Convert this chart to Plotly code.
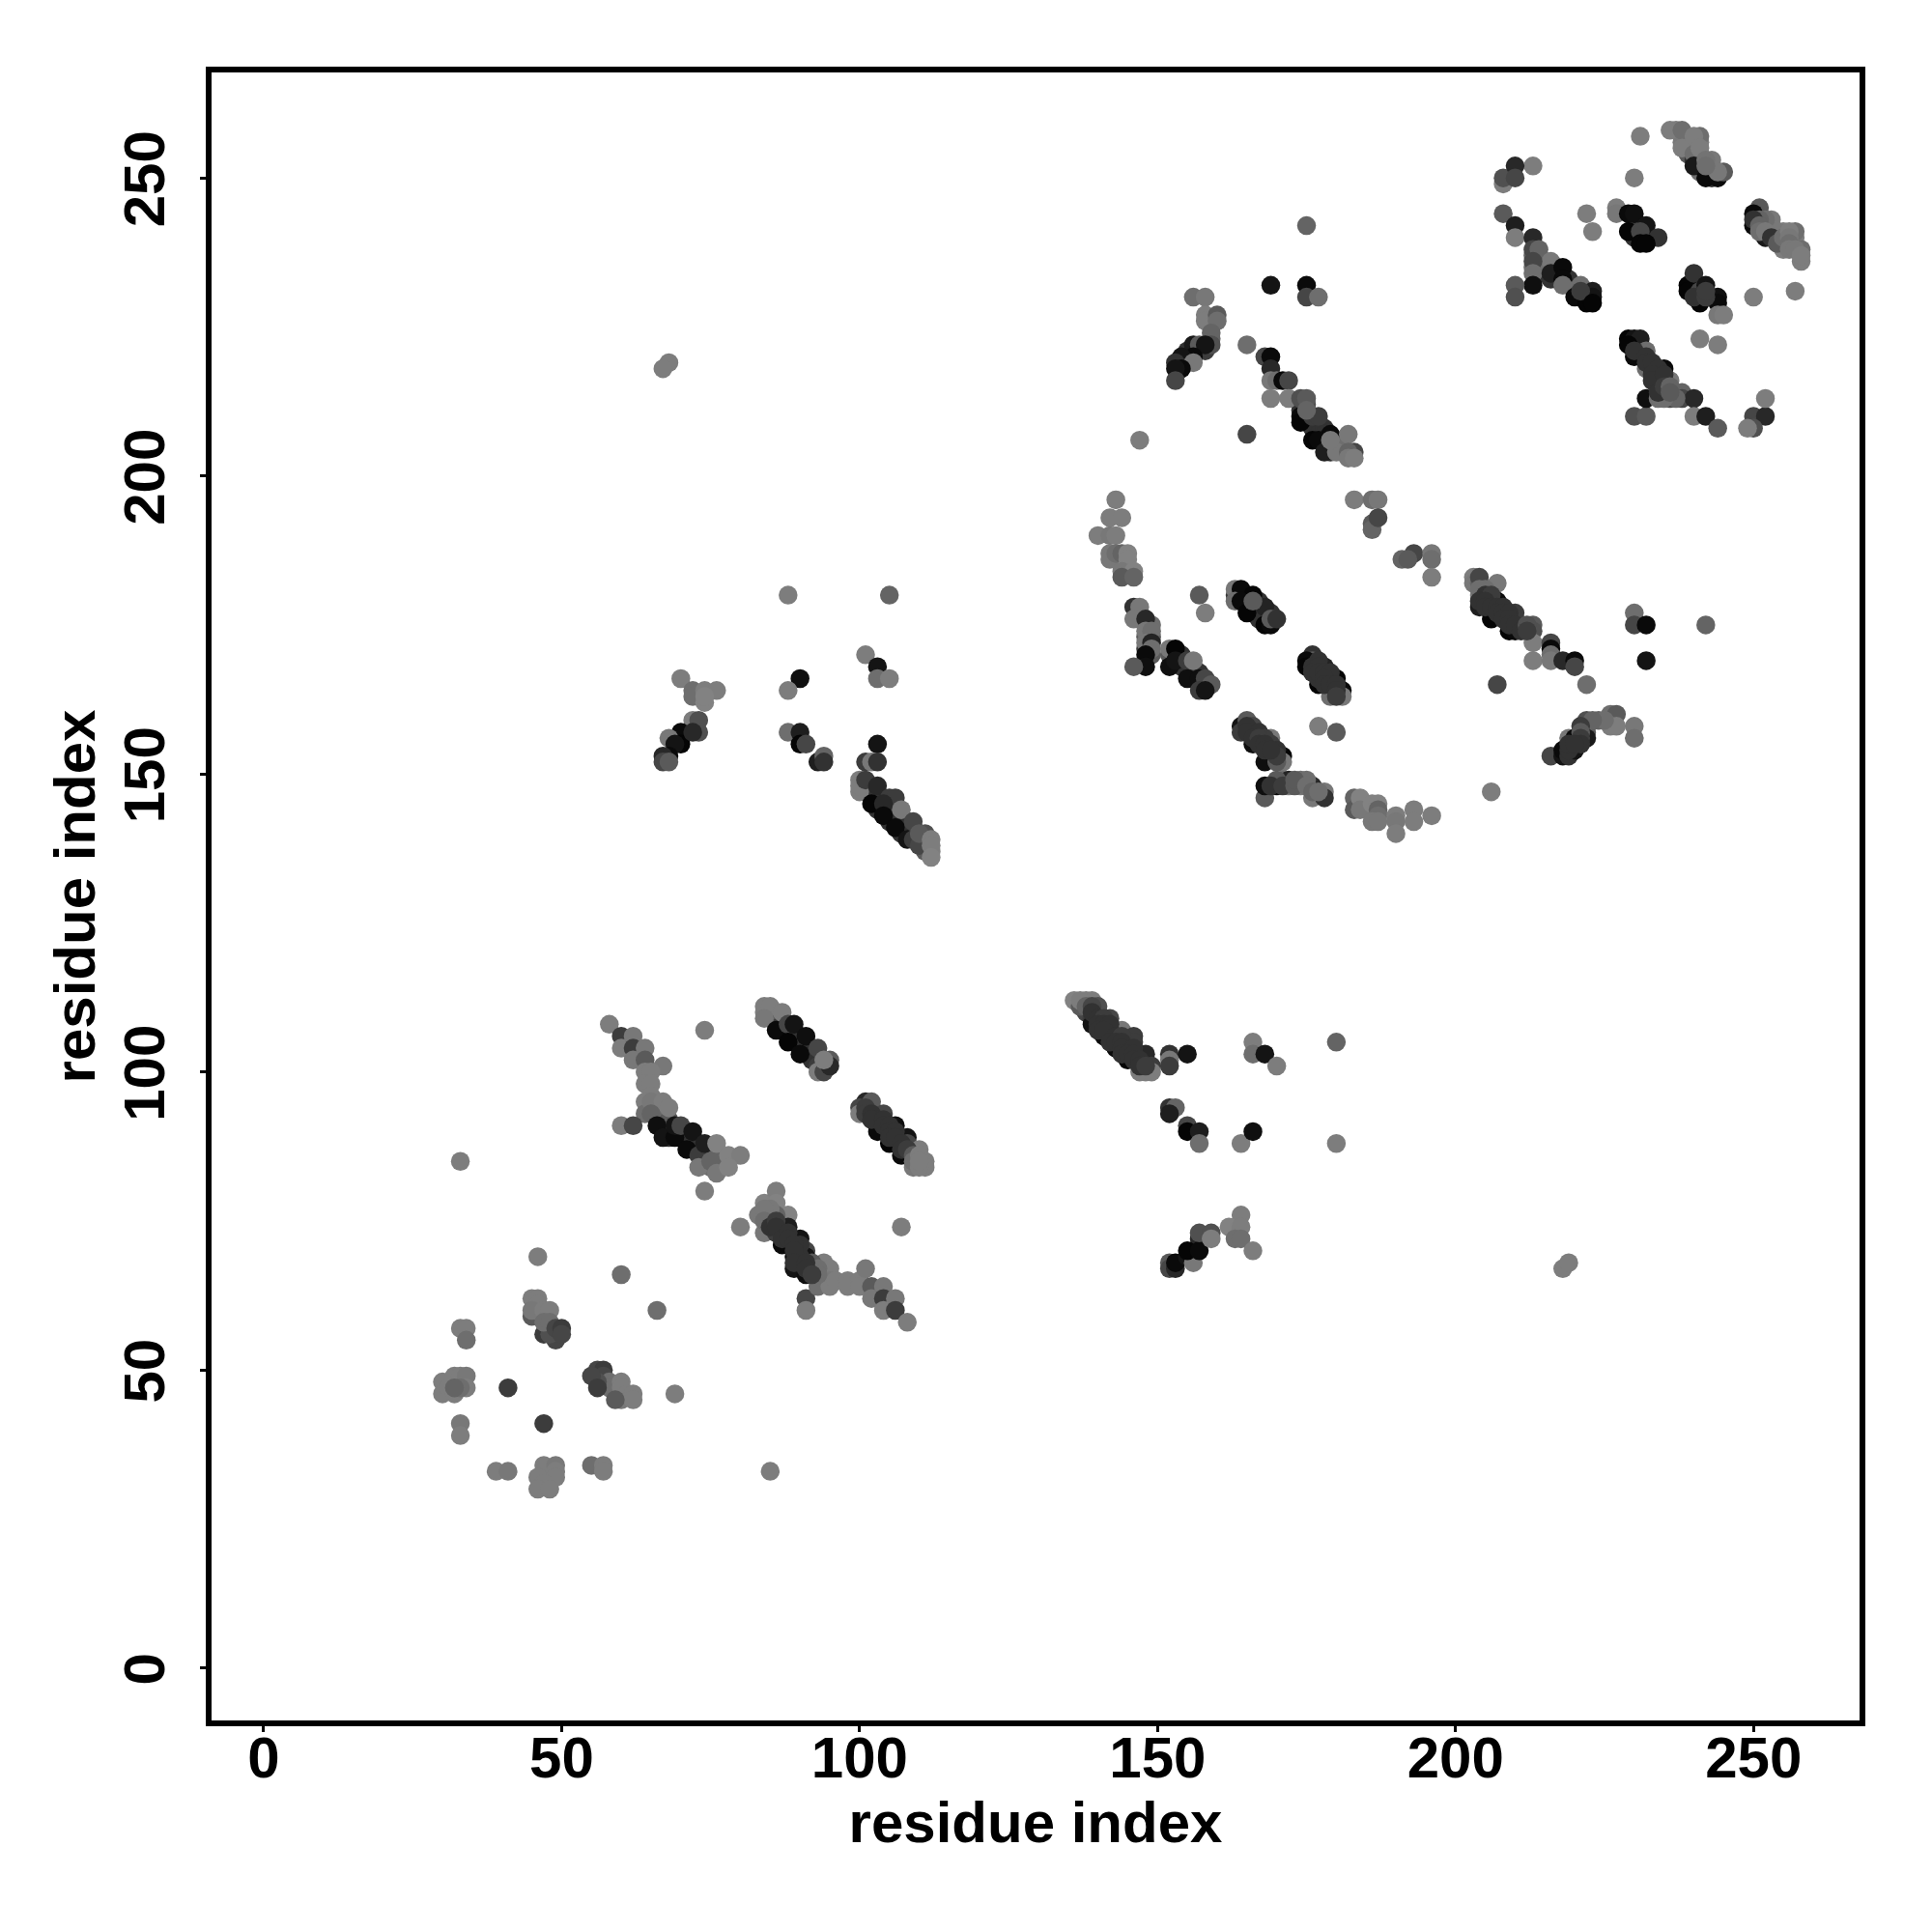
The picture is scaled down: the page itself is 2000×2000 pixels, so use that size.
import plotly.graph_objects as go

# One half of a symmetric residue contact map: (i, j, grey shade), grouped by region.
i_a = [33,46,60,41,33,33,33,34,34,30,30,31,32,32,33,34,34,33,32,45,47,49,48,45,46,46,45,47,48,47,48,49,50,50]
j_a = [85,69,66,47,41,39,57,57,55,48,46,47,46,49,49,49,47,47,47,59,56,55,56,62,62,61,60,60,60,58,58,57,57,56]
s_a = [125,125,110,60,120,125,125,125,110,125,125,125,125,125,125,120,125,110,100,90,60,70,80,125,125,125,120,125,125,110,110,70,60,70]

i_b = [58,60,60,62,62,64,62,64,67,64,65,64,65,65,64,64,65,67,68,65,60,62,66,67,69,69,70,72,71,73,74,76,73,75,76,78,80,78,74,74]
j_b = [108,106,104,106,104,104,102,102,101,100,100,98,98,96,95,93,95,95,94,93,91,91,91,89,89,91,91,90,87,86,88,88,84,85,83,86,86,84,80,107]
s_b = [125,60,125,120,60,120,120,90,120,125,125,125,125,125,125,110,120,125,125,100,125,70,15,20,10,20,70,20,10,60,30,130,120,100,120,130,125,130,125,125]

i_c = [84,85,84,87,86,88,89,88,90,91,93,93,94,95,95,94]
j_c = [111,111,109,110,107,108,108,105,103,106,104,100,100,102,101,102]
s_c = [125,125,120,125,10,70,20,5,10,15,70,125,70,90,40,125]

i_d = [68,67,70,72,72,74,74,76,74,72,73,73,70,70,72,68,69,68,67,67,68]
j_d = [219,218,166,164,163,164,162,164,163,159,159,157,157,155,157,156,155,153,153,152,152]
s_d = [125,125,125,110,110,125,130,125,130,125,80,80,10,5,40,120,20,10,40,70,90]

i_e = [88,90,90,91,93,94,94,88,105,101,103,103,105,90,88,103,101,102,103]
j_e = [157,157,155,155,152,153,152,180,180,170,168,166,166,166,164,155,152,152,152]
s_e = [110,30,5,70,30,100,50,125,100,125,20,110,125,15,125,20,60,120,50]

i_f = [100,100,100,101,103,102,105,106,104,104,106,107,108,109,109,110,111,110,112,112,112]
j_f = [149,147,148,149,148,145,146,146,145,143,141,144,139,142,139,138,140,140,139,138,136]
s_f = [125,125,125,60,40,5,60,60,40,10,10,120,20,70,60,70,80,90,125,125,130]

i_g = [143,142,144,140,142,143,142,142,143,144,145,145,144,146,144,146,
       146,147,146,148,148,149,148,149,149,148,148,146,
       152,153,152,153,155,156,155,157,158,159,157,158,
       157,158,163,164,163,166,164,165,168,166,168,169,169,170]
j_g = [196,193,193,190,190,190,187,186,187,187,187,186,184,184,183,183,
       178,178,176,176,174,174,172,172,171,170,168,168,
       171,171,168,169,169,169,166,166,166,165,164,164,
       180,177,181,181,179,180,179,177,178,179,175,175,176,176]
s_g = [125,125,125,125,120,125,120,120,110,100,130,130,120,130,90,100,
       50,120,120,40,120,110,120,35,110,10,15,90,
       120,5,15,20,60,120,15,15,70,90,60,20,
       90,125,120,10,110,5,10,5,35,90,5,10,90,50]

i_h = [175,169,175,175,177,156,158,158,158,160,160,159,159,156,157,158,156,154,153,156,154,153,153,
       165,168,169,169,169,170,171,172,169,172,174,175,174,174,176,177,175,179,176,177,178,180,179,182,183,182,182,183,165,147]
j_h = [242,232,232,230,230,230,230,227,226,227,226,224,222,222,222,222,220,220,219,219,218,218,216,
       222,220,220,218,216,216,216,216,213,213,213,213,210,209,210,210,211,207,206,206,204,204,206,207,204,204,203,203,207,206]
s_h = [100,20,10,70,110,110,120,125,125,90,110,100,80,25,90,20,10,20,50,120,10,20,70,
       110,70,10,40,120,110,10,70,125,125,80,90,10,5,60,60,100,10,5,10,30,120,120,120,70,100,120,125,70,125]

i_k = [183,186,187,186,186,187]
j_k = [196,196,196,192,191,193]
s_k = [125,110,120,90,100,70]

i_m = [213,208,208,210,210,208,210,210,213,213,214,216,213,213,216,218,213,210,210,218,221,218,220,222,223,223,221,223,222,223]
j_m = [252,249,250,252,250,244,242,240,240,238,238,236,236,234,234,235,232,232,230,233,232,232,230,229,231,230,231,229,244,241]
s_m = [125,125,80,40,70,90,30,125,40,70,100,120,70,110,30,10,15,90,80,10,110,110,10,5,30,20,60,5,125,125]

i_n = [227,227,229,230,229,232,231,234,231,232,231,230,236,238,238,241,240,240,241,240,243,242,242,244,245,244,242]
j_n = [245,244,244,244,241,242,241,240,239,239,257,250,258,258,255,257,257,254,255,252,253,253,250,250,251,251,252]
s_n = [125,120,10,15,5,20,70,50,5,5,125,125,125,110,125,110,125,110,125,25,120,115,10,10,90,120,110]

# Contacts that sit underneath the stripes, only partly visible.
i_u = [66,67,68,68,70,71,72,73,72,74,75,74,75,77,77,76,66,67,68,69,71,
       85,86,84,85,86,87,87,88,89,89,90,90,91,91,92,92,92,93,93,94,
       101,101,102,102,103,103,103,104,104,105,105,105,106,106,107,107,108,108,108,109,109,110,111,111,112,111,
       154,154,155,155,156,156,156,157,157,158,153,152,154,
       163,164,165,165,165,166,167,167,167,166,167,168,168,169,
       147,147,148,149,149,148,148,148,149,
       174,175,174,175,175,176,176,177,177,177,178,178,178,178,179,179,180,180,181,181,
       155,155,154,155,156,157,158,159,159,
       214,215,215,214,217,216,217,218,219,219,220,221,213,213,214,
       231,230,230,
       237,238,238,239,240,241,240,239,240,241,241,242,243,243,243,241,241]
j_u = [92,91,91,89,89,89,88,88,87,86,86,85,84,84,85,86,93,93,92,90,90,
       110,110,110,109,109,108,107,107,106,105,106,105,105,104,104,102,103,102,101,101,
       148,147,147,146,146,145,144,146,144,144,143,142,144,143,141,140,142,141,140,141,140,139,139,138,137,137,
       169,168,168,167,167,166,168,167,165,165,170,170,170,
       180,180,180,179,178,178,179,178,177,177,176,177,176,177,
       177,176,175,173,175,173,171,169,170,
       212,212,211,210,209,209,208,209,208,207,208,207,206,205,205,204,206,205,204,205,
       220,219,219,221,221,221,221,223,225,
       236,236,235,234,235,233,233,234,233,232,232,230,235,237,235,
       242,242,240,
       258,257,256,256,256,256,255,254,253,252,251,251,250,251,252,254,253]
s_u = [60,50,50,50,50,50,50,50,50,50,60,50,110,120,120,100,110,110,90,50,50,
       125,125,125,110,90,60,50,50,50,50,50,50,50,50,50,50,50,50,60,60,
       60,50,50,50,50,50,50,50,50,50,50,50,60,50,50,50,50,50,50,60,50,50,70,100,125,90,
       50,50,50,50,60,50,60,50,50,50,60,90,50,
       60,50,50,50,50,50,50,50,50,50,50,50,50,50,
       110,100,110,90,110,90,60,50,90,
       60,80,50,50,50,50,50,50,50,50,50,50,50,50,50,50,60,50,110,110,
       50,50,50,50,60,90,60,100,110,
       90,100,60,50,50,50,50,50,50,50,50,50,110,100,110,
       60,60,50,
       125,120,120,110,120,125,110,90,50,120,110,100,50,100,110,120,110]

res_i = i_u + i_a + i_b + i_c + i_d + i_e + i_f + i_g + i_h + i_k + i_m + i_n
res_j = j_u + j_a + j_b + j_c + j_d + j_e + j_f + j_g + j_h + j_k + j_m + j_n
shade = s_u + s_a + s_b + s_c + s_d + s_e + s_f + s_g + s_h + s_k + s_m + s_n
assert len(res_i) == len(res_j) == len(shade)

tick_values = [0, 50, 100, 150, 200, 250]
axis_title = "residue index"

def rgb(v):
    return f"rgb({v},{v},{v})"

colors = [rgb(v) for v in shade]
font = dict(family="Liberation Sans", size=60, color="black", weight=700)

fig = go.Figure()
fig.add_trace(go.Scatter(x=res_i, y=res_j, mode="markers",
                         marker=dict(size=19.5, color=colors, line=dict(width=0))))
fig.add_trace(go.Scatter(x=res_j[::-1], y=res_i[::-1], mode="markers",
                         marker=dict(size=19.5, color=colors[::-1], line=dict(width=0))))

axis = dict(tickmode="array", tickvals=tick_values, ticks="outside", ticklen=6, tickwidth=3,
            tickcolor="black", showgrid=False, zeroline=False, showline=True, linecolor="black",
            linewidth=6, mirror=True, tickfont=font)
fig.update_xaxes(**axis, range=[-8.75, 267.8], ticklabelstandoff=-25,
                 title=dict(text=axis_title, font=font, standoff=4))
fig.update_yaxes(**axis, range=[-8.8, 267.7], tickangle=-90, ticklabelstandoff=13, ticklabelshift=10,
                 title=dict(text=axis_title, font=font, standoff=0))
fig.update_layout(width=2000, height=2000, showlegend=False, paper_bgcolor="white", plot_bgcolor="white",
                  margin=dict(l=219, r=75, t=75, b=219, autoexpand=False))
fig.write_html("out.html", config=dict(displayModeBar=False), post_script="document.body.style.margin='0';")
